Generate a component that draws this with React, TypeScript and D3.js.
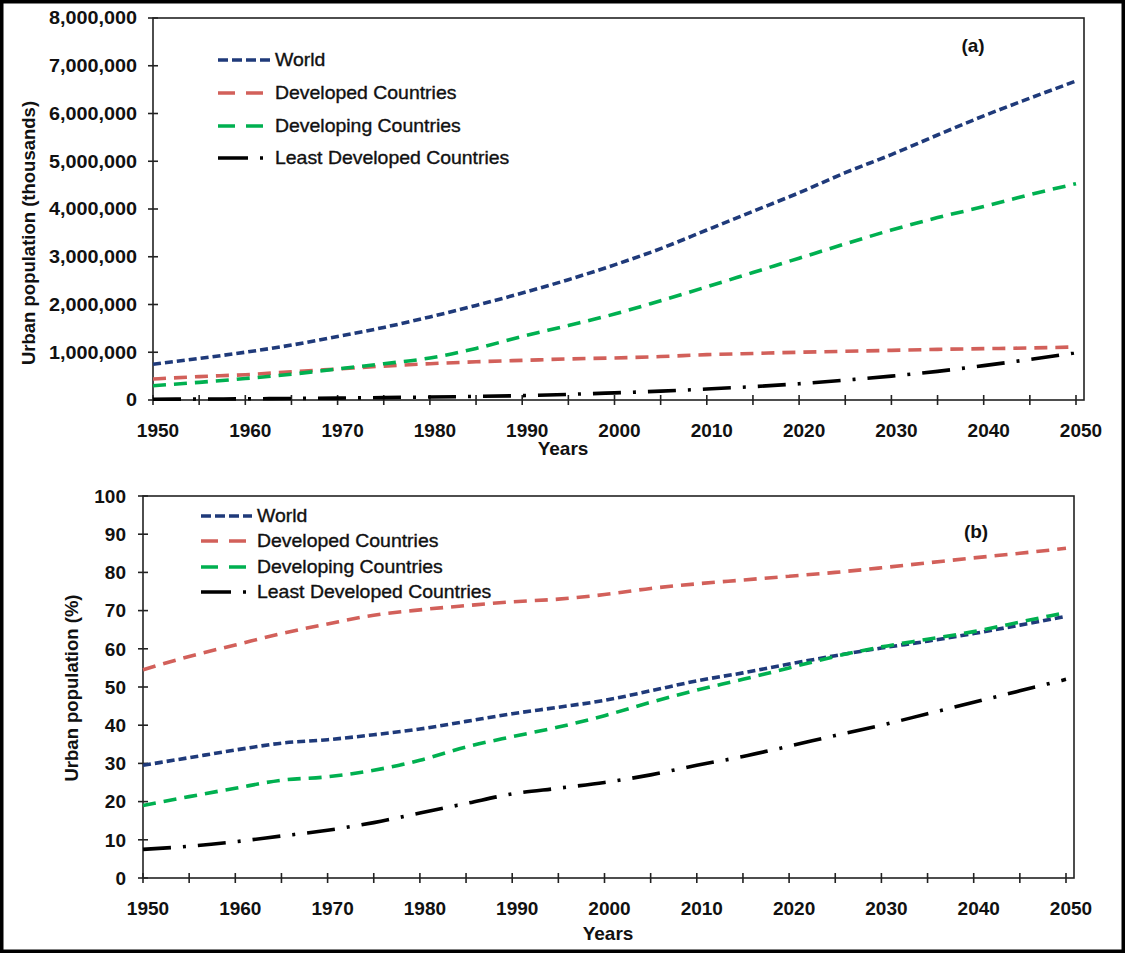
import React from "react";
import * as d3 from "d3";

const years = [
  1950, 1955, 1960, 1965, 1970, 1975, 1980, 1985, 1990, 1995, 2000,
  2005, 2010, 2015, 2020, 2025, 2030, 2035, 2040, 2045, 2050,
];

// panel (a): urban population, thousands
const worldPop = [
  750000, 870000, 1000000, 1150000, 1330000, 1520000, 1740000, 1980000,
  2240000, 2520000, 2830000, 3170000, 3560000, 3950000, 4340000, 4760000,
  5140000, 5550000, 5950000, 6320000, 6680000,
];
const developedPop = [
  440000, 490000, 530000, 590000, 650000, 710000, 760000, 800000, 830000,
  860000, 880000, 910000, 950000, 975000, 1000000, 1020000, 1040000,
  1060000, 1075000, 1090000, 1110000,
];
const developingPop = [
  300000, 370000, 450000, 540000, 650000, 760000, 880000, 1080000, 1330000,
  1560000, 1800000, 2080000, 2370000, 2670000, 2970000, 3270000, 3560000,
  3820000, 4050000, 4300000, 4530000,
];
const leastPop = [
  15000, 20000, 25000, 32000, 40000, 50000, 62000, 75000, 92000, 118000,
  150000, 185000, 230000, 280000, 340000, 415000, 500000, 600000, 720000,
  850000, 990000,
];

// panel (b): urban population, percent
const worldPct = [
  29.5, 31.5, 33.5, 35.3, 36.2, 37.5, 39, 41, 43, 44.7, 46.5, 49, 51.6,
  53.7, 56, 58.2, 60.2, 62, 64, 66.2, 68.5,
];
const developedPct = [
  54.5, 58, 61, 64, 66.5, 68.8, 70.2, 71.3, 72.3, 73, 74.2, 75.8, 77, 78,
  79, 80, 81.2, 82.5, 83.8, 85, 86.3,
];
const developingPct = [
  19, 21.3, 23.5, 25.6, 26.5, 28.2, 30.8, 34.3, 37, 39.5, 42.5, 46, 49.2,
  52, 55, 58, 60.5, 62.5, 64.5, 67, 69.5,
];
const leastPct = [
  7.5, 8.3, 9.5, 11, 12.5, 14.5, 17, 19.5, 22, 23.5, 25, 27, 29.5, 31.8,
  34.5, 37.3, 40, 43, 46, 49, 52,
];

const seriesNames = [
  "World",
  "Developed Countries",
  "Developing Countries",
  "Least Developed Countries",
];
const seriesColors = ["#1f3a7a", "#d2605a", "#00b050", "#000000"];
const lineDash = ["8,4", "13,8", "13,8", "28,12,3,12"];
const legendDash = ["10,4", "17,11", "17,11", "30,12,3,20"];

const xTicks = [1950, 1960, 1970, 1980, 1990, 2000, 2010, 2020, 2030, 2040, 2050];
const xMinor = [1955, 1965, 1975, 1985, 1995, 2005, 2015, 2025, 2035, 2045];
const popTicks = [0, 1000000, 2000000, 3000000, 4000000, 5000000, 6000000, 7000000, 8000000];
const pctTicks = [0, 10, 20, 30, 40, 50, 60, 70, 80, 90, 100];

const FONT = "'Liberation Sans', Arial, Helvetica, sans-serif";

// text stretched horizontally like the scanned original
function T(props: {
  x: number;
  y: number;
  sx?: number;
  anchor?: string;
  size: number;
  bold?: boolean;
  dy?: string;
  children: React.ReactNode;
}) {
  const sx = props.sx || 1;
  return (
    <text
      transform={`translate(${props.x},${props.y}) scale(${sx},1)`}
      dy={props.dy}
      textAnchor={props.anchor || "start"}
      fontSize={props.size}
      fontWeight={props.bold ? "bold" : "normal"}
      fill="#111"
      stroke={props.bold ? "none" : "#111"}
      strokeWidth={props.bold ? 0 : 0.35}
    >
      {props.children}
    </text>
  );
}

type PanelProps = {
  left: number;
  top: number;
  bottom: number;
  x2050: number;
  frameRight: number;
  series: number[][];
  yMax: number;
  yTicks: number[];
  yFormat: (v: number) => string;
  yFont: number;
  ySx: number;
  yLabelX: number;
  yTitle: string;
  yTitleX: number;
  yTitleY: number;
  xTitleX: number;
  xTitleY: number;
  tag: string;
  tagX: number;
  tagY: number;
  legendX: number;
  legendTextX: number;
  legendY: number[];
};

function Panel(p: PanelProps) {
  const x = d3.scaleLinear().domain([1950, 2050]).range([p.left, p.x2050]);
  const y = d3.scaleLinear().domain([0, p.yMax]).range([p.bottom, p.top]);
  const line = d3
    .line<number>()
    .x((_, i) => x(years[i]))
    .y((d) => y(d))
    .curve(d3.curveMonotoneX);

  return (
    <g fontFamily={FONT}>
      {/* frame */}
      <rect
        x={p.left}
        y={p.top}
        width={p.frameRight - p.left}
        height={p.bottom - p.top}
        fill="none"
        stroke="#222"
        strokeWidth={1.6}
      />
      {/* y ticks */}
      {p.yTicks.map((t) => (
        <g key={"y" + t}>
          <line x1={p.left - 5} x2={p.left + 5} y1={y(t)} y2={y(t)} stroke="#222" strokeWidth={1.6} />
          <T x={p.yLabelX} y={y(t)} dy="0.36em" anchor="end" bold size={p.yFont} sx={p.ySx}>
            {p.yFormat(t)}
          </T>
        </g>
      ))}
      {/* x ticks */}
      {xTicks.concat(xMinor).map((t) => (
        <line key={"xt" + t} x1={x(t)} x2={x(t)} y1={p.bottom - 5} y2={p.bottom + 5} stroke="#222" strokeWidth={1.6} />
      ))}
      {xTicks.map((t) => (
        <T key={"xl" + t} x={x(t) + 5} y={p.bottom + 37} anchor="middle" bold size={19}>
          {t}
        </T>
      ))}
      {/* titles */}
      <text
        transform={`translate(${p.yTitleX},${p.yTitleY}) rotate(-90)`}
        textAnchor="middle"
        fontWeight="bold"
        fontSize={18.5}
        fill="#111"
      >
        {p.yTitle}
      </text>
      <T x={p.xTitleX} y={p.xTitleY} anchor="middle" bold size={19}>
        Years
      </T>
      <T x={p.tagX} y={p.tagY} anchor="middle" bold size={19}>
        {p.tag}
      </T>
      {/* series */}
      {p.series.map((s, i) => (
        <path
          key={"s" + i}
          d={line(s) || ""}
          fill="none"
          stroke={seriesColors[i]}
          strokeWidth={3.6}
          strokeDasharray={lineDash[i]}
        />
      ))}
      {/* legend */}
      {seriesNames.map((n, i) => (
        <g key={"l" + i}>
          <line
            x1={p.legendX}
            x2={p.legendTextX - 5}
            y1={p.legendY[i]}
            y2={p.legendY[i]}
            stroke={seriesColors[i]}
            strokeWidth={3.6}
            strokeDasharray={legendDash[i]}
          />
          <T x={p.legendTextX} y={p.legendY[i]} dy="0.36em" size={18} sx={1.08}>
            {n}
          </T>
        </g>
      ))}
    </g>
  );
}

export default function App() {
  const fmt = d3.format(",");
  return (
    <svg
      width={1125}
      height={953}
      style={{ position: "absolute", left: 0, top: 0, background: "#fff" }}
    >
      <rect x={0} y={0} width={1125} height={953} fill="#fff" />
      <Panel
        left={153}
        top={18}
        bottom={400}
        x2050={1076}
        frameRight={1084}
        series={[worldPop, developedPop, developingPop, leastPop]}
        yMax={8000000}
        yTicks={popTicks}
        yFormat={(v) => fmt(v)}
        yFont={18}
        ySx={1.1}
        yLabelX={137}
        yTitle="Urban population (thousands)"
        yTitleX={35}
        yTitleY={233}
        xTitleX={563}
        xTitleY={455}
        tag="(a)"
        tagX={973}
        tagY={52}
        legendX={218}
        legendTextX={275}
        legendY={[60, 93, 126, 158]}
      />
      <Panel
        left={143}
        top={496}
        bottom={878}
        x2050={1066}
        frameRight={1074}
        series={[worldPct, developedPct, developingPct, leastPct]}
        yMax={100}
        yTicks={pctTicks}
        yFormat={(v) => String(v)}
        yFont={19}
        ySx={1}
        yLabelX={126}
        yTitle="Urban population (%)"
        yTitleX={78}
        yTitleY={688}
        xTitleX={608}
        xTitleY={940}
        tag="(b)"
        tagX={976}
        tagY={538}
        legendX={201}
        legendTextX={257}
        legendY={[516, 541, 567, 592]}
      />
      {/* outer frame */}
      <rect x={1.5} y={1.5} width={1122} height={950} fill="none" stroke="#000" strokeWidth={4} />
    </svg>
  );
}
